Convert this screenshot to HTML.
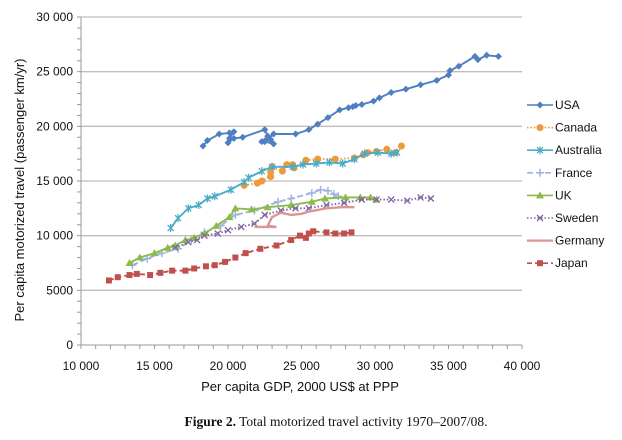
<!DOCTYPE html>
<html><head><meta charset="utf-8"><style>
html,body{margin:0;padding:0;background:#fff;}
svg{display:block;font-family:"Liberation Sans",Arial,sans-serif;}
</style></head><body>
<svg id="chart" width="622" height="440" viewBox="0 0 622 440">
<g id="grid"></g><g id="axes"></g><g id="series"></g><g id="legend"></g>
<text x="24" y="190" transform="rotate(-90 24 190)" text-anchor="middle" font-size="13" fill="#111">Per capita motorized travel (passenger km/yr)</text>
<text x="300" y="391" text-anchor="middle" font-size="13" fill="#111">Per capita GDP, 2000 US$ at PPP</text>
<text x="336" y="426" text-anchor="middle" font-size="13.5" fill="#111" font-family="Liberation Serif,serif"><tspan font-weight="bold">Figure 2.</tspan>    Total motorized travel activity 1970–2007/08.</text>
</svg>
<script>
const xTicks=[10000,15000,20000,25000,30000,35000,40000];
const xTickLabels=["10 000","15 000","20 000","25 000","30 000","35 000","40 000"];
const yTicks=[0,5000,10000,15000,20000,25000,30000];
const yTickLabels=["0","5000","10 000","15 000","20 000","25 000","30 000"];
const seriesNames=["USA","Canada","Australia","France","UK","Sweden","Germany","Japan"];
const usaX=[18.3,18.6,19.4,20.1,20.4,20.1,20.0,20.4,21.0,22.5,22.7,22.3,22.9,23.1,22.5,23.1,24.6,25.5,26.1,26.8,27.6,28.2,28.5,28.7,29.1,29.9,30.3,31.1,32.1,33.1,34.2,35.0,35.1,35.7,36.8,37.0,37.6,38.4];
const usaY=[18.2,18.7,19.3,19.4,19.5,18.9,18.5,18.9,19.0,19.7,19.1,18.6,18.8,18.4,18.6,19.3,19.3,19.7,20.2,20.8,21.5,21.7,21.8,21.9,22.0,22.3,22.6,23.1,23.4,23.8,24.2,24.7,25.1,25.5,26.4,26.1,26.5,26.4];
const canadaX=[21.1,22.0,22.3,22.9,22.9,23.0,23.7,24.0,24.4,24.5,25.3,26.1,27.3,28.6,29.2,29.5,30.1,30.8,31.4,31.8];
const canadaY=[14.6,14.8,15.0,15.4,15.8,16.3,15.9,16.5,16.5,16.2,16.9,17.0,17.0,17.1,17.4,17.6,17.7,17.9,17.6,18.2];
const australiaX=[16.1,16.6,17.3,18.0,18.6,19.1,20.2,21.1,21.4,22.3,23.0,24.4,25.1,26.0,26.9,27.8,28.6,29.3,30.2,31.1,31.5];
const australiaY=[10.7,11.6,12.5,12.8,13.4,13.6,14.2,14.9,15.3,15.9,16.3,16.3,16.5,16.6,16.7,16.6,17.0,17.5,17.6,17.5,17.6];
const franceX=[13.5,14.5,15.5,16.6,17.5,18.4,19.5,20.5,21.8,23.4,24.3,25.7,26.3,26.8,27.2,27.5];
const franceY=[7.3,7.9,8.4,8.8,9.6,10.3,10.9,11.9,12.3,13.1,13.4,13.9,14.2,14.1,13.8,13.6];
const ukX=[13.3,14.0,15.0,15.9,16.4,17.1,17.7,18.4,19.2,20.1,20.5,21.6,22.7,24.3,25.7,26.6,28.0,29.0,29.7,30.1];
const ukY=[7.5,8.0,8.4,8.9,9.1,9.6,9.8,10.2,10.9,11.7,12.5,12.4,12.6,12.8,13.1,13.4,13.5,13.5,13.5,13.3];
const swedenX=[16.4,17.3,17.9,18.4,19.3,20.0,20.9,21.8,22.5,23.6,24.6,25.5,26.7,27.9,29.1,30.1,31.1,32.2,33.1,33.8];
const swedenY=[8.9,9.4,9.6,10.0,10.2,10.5,10.8,11.1,11.9,12.3,12.5,12.5,12.8,13.0,13.3,13.3,13.3,13.2,13.5,13.4];
const germanyX=[21.8,23.3,22.7,23.0,23.6,24.3,25.0,25.5,26.7,27.7,28.6];
const germanyY=[10.8,10.8,10.9,11.7,12.1,11.9,12.0,12.2,12.5,12.6,12.6];
const japanX=[11.9,12.5,13.3,13.8,14.7,15.4,16.2,17.1,17.7,18.5,19.1,19.8,20.5,21.2,22.2,23.3,24.3,24.9,25.3,25.5,25.8,26.7,27.3,27.9,28.4];
const japanY=[5.9,6.2,6.4,6.5,6.4,6.6,6.8,6.8,7.0,7.2,7.3,7.6,8.0,8.4,8.8,9.1,9.6,10.0,9.8,10.2,10.4,10.3,10.2,10.2,10.3];

const NS="http://www.w3.org/2000/svg";
const X0=81,X1=522,Y0=345,Y1=17;
function sx(v){return X0+(v-10000)/30000*(X1-X0);}
function sy(v){return Y0-v/30000*(Y0-Y1);}
function mk(tag,attrs,parent){const e=document.createElementNS(NS,tag);for(const k in attrs)e.setAttribute(k,attrs[k]);parent.appendChild(e);return e;}
const grid=document.getElementById('grid'),axes=document.getElementById('axes'),ser=document.getElementById('series'),leg=document.getElementById('legend');

yTicks.forEach((t,i)=>{
  if(t>0){const g=mk('line',{x1:X0,x2:X1,y1:sy(t),y2:sy(t),stroke:'#bdbdbd','stroke-width':1.3},grid);
  
  }
  const tx=mk('text',{x:73,y:sy(t)+4,'text-anchor':'end','font-size':12,fill:'#111'},axes);tx.textContent=yTickLabels[i];
  
  
});
for(let v=0;v<=30000;v+=1000){mk('line',{x1:X0-4,x2:X0,y1:sy(v),y2:sy(v),stroke:'#999'},axes);}
for(let v=10000;v<=40000;v+=1000){mk('line',{x1:sx(v),x2:sx(v),y1:Y0,y2:Y0+4,stroke:'#999'},axes);}
xTicks.forEach((t,i)=>{
  const tx=mk('text',{x:sx(t),y:370,'text-anchor':'middle','font-size':12,fill:'#111'},axes);tx.textContent=xTickLabels[i];
  
  
});
const ya=mk('line',{x1:X0,x2:X0,y1:Y1,y2:Y0,stroke:'#999'},axes);


const xa=mk('line',{x1:X0,x2:X1,y1:Y0,y2:Y0,stroke:'#999'},axes);



const styles=[
 {c:'#4f7fc0',d:'',m:'diamond'},
 {c:'#ee9a3a',d:'1.5 2',m:'circle'},
 {c:'#4bacc6',d:'',m:'star'},
 {c:'#9fb4df',d:'6 3',m:'plus'},
 {c:'#8dbb4b',d:'',m:'triangle'},
 {c:'#8064a2',d:'1.5 2',m:'x'},
 {c:'#d99694',d:'',m:'none'},
 {c:'#c0504d',d:'5 3',m:'square'}];
const xs=[usaX,canadaX,australiaX,franceX,ukX,swedenX,germanyX,japanX];
const ys=[usaY,canadaY,australiaY,franceY,ukY,swedenY,germanyY,japanY];

function marker(type,x,y,c,parent){
  let e;
  if(type==='diamond')e=mk('polygon',{points:`${x},${y-3.5} ${x+3.5},${y} ${x},${y+3.5} ${x-3.5},${y}`,fill:c},parent);
  else if(type==='circle')e=mk('circle',{cx:x,cy:y,r:3.5,fill:c},parent);
  else if(type==='square')e=mk('rect',{x:x-3,y:y-3,width:6,height:6,fill:c},parent);
  else if(type==='triangle')e=mk('polygon',{points:`${x},${y-4} ${x+4},${y+3} ${x-4},${y+3}`,fill:c},parent);
  else if(type==='plus')e=mk('path',{d:`M${x-4} ${y}H${x+4}M${x} ${y-4}V${y+4}`,stroke:c,'stroke-width':1.5},parent);
  else if(type==='x')e=mk('path',{d:`M${x-3} ${y-3}L${x+3} ${y+3}M${x-3} ${y+3}L${x+3} ${y-3}`,stroke:c,'stroke-width':1.3},parent);
  else if(type==='star')e=mk('path',{d:`M${x-3} ${y-3}L${x+3} ${y+3}M${x-3} ${y+3}L${x+3} ${y-3}M${x} ${y-4}V${y+4}`,stroke:c,'stroke-width':1.3},parent);
  return e;
}

seriesNames.forEach((name,i)=>{
  const s=styles[i];
  const g=mk('g',{},ser);
  
  
  const pts=xs[i].map((v,j)=>`${sx(v*1000).toFixed(1)},${sy(ys[i][j]*1000).toFixed(1)}`).join(' ');
  const pl=mk('polyline',{points:pts,fill:'none',stroke:s.c,'stroke-width':i===6?2.4:1.9,'stroke-dasharray':s.d},g);
  
  
  if(s.m!=='none'){xs[i].forEach((v,j)=>{const m=marker(s.m,sx(v*1000),sy(ys[i][j]*1000),s.c,g);
    
    });}
  const ly=105+i*22.6;
  const lg=mk('g',{},leg);
  
  
  mk('line',{x1:527,x2:553,y1:ly,y2:ly,stroke:s.c,'stroke-width':i===6?2.2:1.6,'stroke-dasharray':s.d},lg);
  if(s.m!=='none')marker(s.m,540,ly,s.c,lg);
  const t=mk('text',{x:555,y:ly+4,'font-size':12,fill:'#111'},lg);t.textContent=name;
});
</script>
</body></html>
